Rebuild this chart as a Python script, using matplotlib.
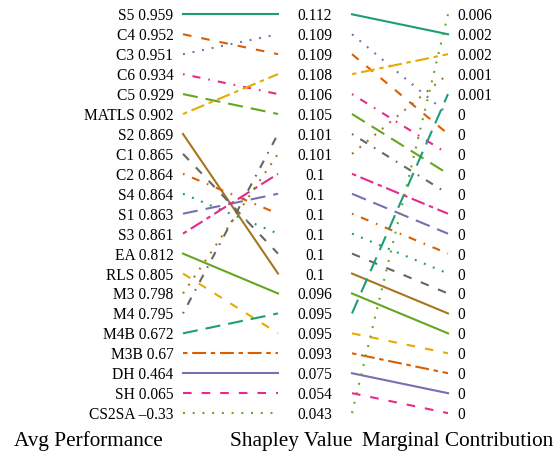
import matplotlib
matplotlib.use("Agg")
import matplotlib.pyplot as plt

plt.rcParams['font.family'] = ['Liberation Serif', 'DejaVu Serif']
plt.rcParams['lines.scale_dashes'] = False

# algorithms in colour/style order, with their values
algos = ["S5", "C4", "C3", "C6", "C5", "MATLS", "S2", "C1", "S4", "C2",
         "S1", "S3", "EA", "RLS", "M3", "M4", "M4B", "M3B", "DH", "SH", "CS2SA"]
avg_perf = [0.959, 0.952, 0.951, 0.934, 0.929, 0.902, 0.869, 0.865, 0.864, 0.864,
            0.863, 0.861, 0.812, 0.805, 0.798, 0.795, 0.672, 0.67, 0.464, 0.065, -0.33]
shapley = [0.112, 0.109, 0.109, 0.106, 0.105, 0.108, 0.1, 0.1, 0.1, 0.1,
           0.1, 0.1, 0.096, 0.095, 0.101, 0.101, 0.095, 0.093, 0.075, 0.054, 0.043]
marginal = [0.002, 0, 0, 0, 0, 0.002, 0, 0, 0, 0,
            0, 0, 0, 0, 0.001, 0, 0.001, 0, 0, 0, 0.006]

# display order (top to bottom) of each column
order_avg = ["S5", "C4", "C3", "C6", "C5", "MATLS", "S2", "C1", "C2", "S4",
             "S1", "S3", "EA", "RLS", "M3", "M4", "M4B", "M3B", "DH", "SH", "CS2SA"]
order_shap = ["S5", "C3", "C4", "MATLS", "C6", "C5", "M4", "M3", "S3", "S1",
              "C2", "S4", "C1", "S2", "EA", "M4B", "RLS", "M3B", "DH", "SH", "CS2SA"]
order_marg = ["CS2SA", "S5", "MATLS", "M3", "M4B", "C3", "C4", "C6", "C5", "M4",
              "S3", "S1", "C2", "S4", "C1", "S2", "EA", "RLS", "M3B", "DH", "SH"]

colors = ['#1b9e77', '#d95f02', '#7570b3', '#e7298a',
          '#66a61e', '#e6ab02', '#a6761d', '#666666']
styles = ['-', (0, (6.2, 7.2)), (0, (1.4, 5.6)), (0, (1.2, 5.8, 5.8, 5.8)),
          (0, (10.8, 5.8)), (0, (3.2, 3.4, 10.0, 3.4))]


def fmt(v):
    if v < 0:
        return "\u2013" + f"{-v:g}"
    return f"{v:g}"


fig = plt.figure(figsize=(5.56, 4.54), dpi=100)
ax = fig.add_axes([0, 0, 1, 1])
ax.set_xlim(0, 556)
ax.set_ylim(22.05, -0.717)
ax.axis('off')

x_left_text = 173.5
x0, x1 = 183, 278
x_mid_text = 315
x2, x3 = 352, 448
x_right_text = 457
fs = 11.2

for i, name in enumerate(algos):
    c = colors[i % len(colors)]
    ls = styles[i % len(styles)]
    ra = order_avg.index(name)
    rs = order_shap.index(name)
    rm = order_marg.index(name)
    ax.plot([x0, x1], [ra, rs], color=c, ls=ls, lw=1.5)
    ax.plot([x2, x3], [rs, rm], color=c, ls=ls, lw=1.5)
    ax.text(x_left_text, ra, f"{name} {fmt(avg_perf[i])}", ha='right',
            va='center_baseline', fontsize=fs)
    ax.text(x_mid_text, rs, fmt(shapley[i]), ha='center',
            va='center_baseline', fontsize=fs)
    ax.text(x_right_text, rm, fmt(marginal[i]), ha='left',
            va='center_baseline', fontsize=fs)

title_y = 21.66
ax.text(88, title_y, "Avg Performance", ha='center', va='baseline', fontsize=15.3)
ax.text(291, title_y, "Shapley Value", ha='center', va='baseline', fontsize=15.3)
ax.text(457.5, title_y, "Marginal Contribution", ha='center', va='baseline', fontsize=15.3)

fig.savefig("out.png", dpi=100)
